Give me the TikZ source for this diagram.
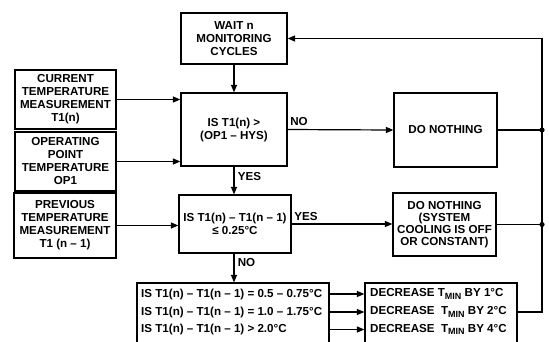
\documentclass[tikz,border=0pt]{standalone}
\usepackage{fontspec}
\setmainfont{Liberation Sans}
\usetikzlibrary{arrows.meta}
\newcommand{\tmin}{T\raisebox{-2.8pt}{\fontsize{9}{9}\selectfont MIN}}
\begin{document}
\begin{tikzpicture}[x=1pt,y=-1pt,
  font=\bfseries\fontsize{11.6}{13}\selectfont,
  box/.style={draw,line width=1.2pt,inner sep=0pt,align=center},
  conn/.style={line width=1.2pt,-{Triangle[length=7.5pt,width=6pt]}},
  ln/.style={line width=1.2pt},
  lbl/.style={inner sep=0pt},
  row/.style={inner sep=0pt,anchor=west}]
\clip (0,0) rectangle (549,341);
% boxes
\node[box,minimum width=106pt,minimum height=51pt] (wait) at (234,38.5) {WAIT n\\MONITORING\\CYCLES};
\node[box,minimum width=101pt,minimum height=59pt] (cur) at (65.5,99.5) {CURRENT\\TEMPERATURE\\MEASUREMENT\\T1(n)};
\node[box,minimum width=101pt,minimum height=59pt] (op) at (65.5,161.5) {OPERATING\\POINT\\TEMPERATURE\\OP1};
\node[box,minimum width=106pt,minimum height=73pt] (q1) at (234,129.5) {IS T1(n) >\\(OP1 – HYS)};
\node[box,minimum width=103pt,minimum height=74pt] (dn1) at (445.5,130) {DO NOTHING};
\node[box,minimum width=102pt,minimum height=65pt] (prev) at (65,225.5) {PREVIOUS\\TEMPERATURE\\MEASUREMENT\\T1 (n – 1)};
\node[box,minimum width=112pt,minimum height=58pt] (q2) at (235,224) {IS T1(n) – T1(n – 1)\\≤ 0.25°C};
\node[box,minimum width=103pt,minimum height=63pt,font=\bfseries\fontsize{11.6}{11.8}\selectfont] (dn2) at (444.5,224.5) {DO NOTHING\\(SYSTEM\\COOLING IS OFF\\OR CONSTANT)};
\node[box,minimum width=192pt,minimum height=66pt] (q3) at (233,316) {};
\node[box,minimum width=152pt,minimum height=66pt] (dec) at (441,316) {};
% rows
\node[row] (r1) at (141,294) {IS T1(n) – T1(n – 1) = 0.5 – 0.75°C};
\node[row] (r2) at (141,312) {IS T1(n) – T1(n – 1) = 1.0 – 1.75°C};
\node[row] (r3) at (141,329.5) {IS T1(n) – T1(n – 1) > 2.0°C};
\node[row] (d1) at (370,294) {DECREASE \tmin{} BY 1°C};
\node[row] (d2) at (370,312) {DECREASE\ \ \tmin{} BY 2°C};
\node[row] (d3) at (370,329.5) {DECREASE\ \ \tmin{} BY 4°C};
% right return line
\coordinate (rt) at (542,38.5);
% connectors
\draw[conn] (wait.south) -- (q1.north);
\draw[conn] (cur.east) -- (cur.east -| q1.west);
\draw[conn] (op.east) -- (op.east -| q1.west);
\draw[conn] (q1.south -| wait.south) -- (q2.north -| wait.south);
\draw[conn] (prev.east) -- (prev.east -| q2.west);
\draw[conn] (q2.south -| wait.south) -- (q3.north -| wait.south);
\draw[conn] (q1.east) -- (dn1.west);
\draw[conn] (q2.east) -- (q2.east -| dn2.west);
\draw[conn] (r1 -| q3.east) -- (r1 -| dec.west);
\draw[conn] (r2 -| q3.east) -- (r2 -| dec.west);
\draw[conn] (r3 -| q3.east) -- (r3 -| dec.west);
\draw[conn] (d2 -| dec.east) -| (rt) -- (wait.east);
\draw[ln] (dn1.east) -- (dn1.east -| rt);
\draw[ln] (dn2.east) -- (dn2.east -| rt);
\fill (dn1.east -| rt) circle (2.6pt);
\fill (dn2.east -| rt) circle (2.6pt);
% labels
\node[lbl] (lno1) at (299,122) {NO};
\node[lbl] (lyes1) at (249.5,176.5) {YES};
\node[lbl] (lyes2) at (306,217) {YES};
\node[lbl] (lno2) at (246.5,262.5) {NO};
\end{tikzpicture}
\end{document}
